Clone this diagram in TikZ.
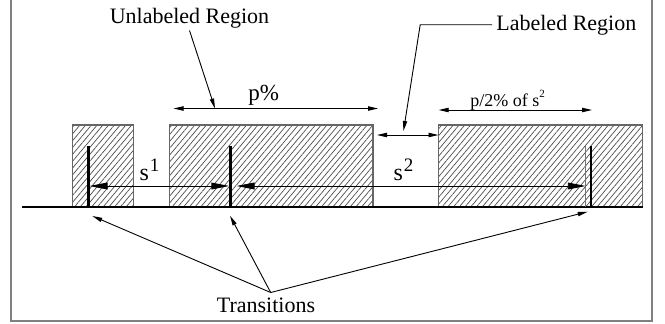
\documentclass[tikz,border=0pt]{standalone}
\usepackage{fontspec}
\setmainfont{Liberation Serif}
\usetikzlibrary{arrows.meta,patterns.meta}
\begin{document}
\begin{tikzpicture}[x=0.5pt,y=-0.5pt,
  lbl/.style={font=\fontsize{11}{13}\selectfont, inner sep=1pt},
  smalllbl/.style={font=\fontsize{9}{11}\selectfont, inner sep=1pt},
  hatchbox/.style={draw=black!60, line width=0.6pt,
    pattern={Lines[angle=50,distance=2.2pt,line width=0.35pt]}, pattern color=black!70},
  transline/.style={line width=1.25pt},
  thinline/.style={draw=black!55, line width=0.4pt},
  baseline/.style={line width=1pt},
  framestyle/.style={draw=black!50, line width=1pt},
  bigarrow/.style={line width=0.45pt, {Triangle[length=9pt,width=3.4pt]}-{Triangle[length=9pt,width=3.4pt]}},
  dimarrow/.style={line width=0.45pt, {Triangle[length=5pt,width=2.2pt]}-{Triangle[length=5pt,width=2.2pt]}},
  pointer/.style={line width=0.45pt, -{Triangle[length=5pt,width=2.1pt]}}
]
\useasboundingbox (0,0) rectangle (665,323);
% frame
\draw[framestyle] (11,0) -- (11,320.5) -- (652,320.5) -- (652,0);
% hatched regions
\path[hatchbox] (72.7,125) rectangle (133.5,206.7);
\path[hatchbox] (169.5,125) rectangle (373,206.7);
\path[hatchbox] (438.7,125) rectangle (642.7,206.7);
% base line
\coordinate (bl) at (22,206.7);
\coordinate (br) at (642.7,206.7);
\draw[baseline] (bl) -- (br);
% transitions
\coordinate (t1a) at (88.5,145.7); \coordinate (t1b) at (88.5,206.7);
\coordinate (t2a) at (230.5,145.7); \coordinate (t2b) at (230.5,206.7);
\coordinate (t3a) at (591,145.7); \coordinate (t3b) at (591,206.7);
\coordinate (t3ga) at (585.8,145.7); \coordinate (t3gb) at (585.8,206.7);
\draw[transline] (t1a) -- (t1b);
\draw[transline] (t2a) -- (t2b);
\draw[transline] (t3a) -- (t3b);
\draw[thinline] (t3ga) -- (t3gb);
% s arrows
\coordinate (s1l) at (89.5,186); \coordinate (s1r) at (229.3,186);
\coordinate (s2l) at (236.5,186); \coordinate (s2r) at (585.8,186);
\draw[bigarrow] (s1l) -- (s1r);
\draw[bigarrow] (s2l) -- (s2r);
\node[anchor=base west, inner sep=0pt, font=\fontsize{12}{14}\selectfont] (s1) at (139.3,180.7)
  {s\kern0.4pt\raisebox{4.5pt}{\fontsize{9.5}{11}\selectfont 1}};
\node[anchor=base west, inner sep=0pt, font=\fontsize{12}{14}\selectfont] (s2) at (393.3,180)
  {s\kern0.4pt\raisebox{4.2pt}{\fontsize{9.5}{11}\selectfont 2}};
% dimension arrows
\coordinate (pdl) at (173.5,108.5); \coordinate (pdr) at (378,108.5);
\coordinate (p2l) at (438.7,110); \coordinate (p2r) at (592,110);
\coordinate (gl) at (377,135); \coordinate (gr) at (438.5,135);
\draw[dimarrow] (pdl) -- (pdr);
\draw[dimarrow] (p2l) -- (p2r);
\draw[dimarrow] (gl) -- (gr);
\node[lbl, anchor=base west, font=\fontsize{11.5}{13}\selectfont] (pp) at (246,100) {p\%};
\node[smalllbl, anchor=base west] (p2) at (468,106.7)
  {p/2\% of s\raisebox{4.7pt}{\fontsize{5.5}{6}\selectfont 2}};
% region labels
\node[lbl, anchor=base] (unl) at (189.5,23.3) {Unlabeled Region};
\node[lbl, anchor=base west, inner sep=2pt] (lab) at (492,30) {Labeled Region};
\coordinate (ptip) at (215,108.5);
\draw[pointer] (unl.south) -- (ptip);
\coordinate (lcorner) at (420.2,0);
\coordinate (gtip) at (403.5,131);
\draw[pointer] (lab.west) -- (lab.west -| lcorner) -- (gtip);
% transitions label
\node[lbl, anchor=base] (tr) at (266,312.5) {Transitions};
\coordinate (apex) at (270.7,292.5);
\coordinate (tp1) at (92.3,216);
\coordinate (tp2) at (230,215.7);
\coordinate (tp3) at (587.7,211.7);
\draw[pointer] (apex) -- (tp1);
\draw[pointer] (apex) -- (tp2);
\draw[pointer] (apex) -- (tp3);
\end{tikzpicture}
\end{document}
